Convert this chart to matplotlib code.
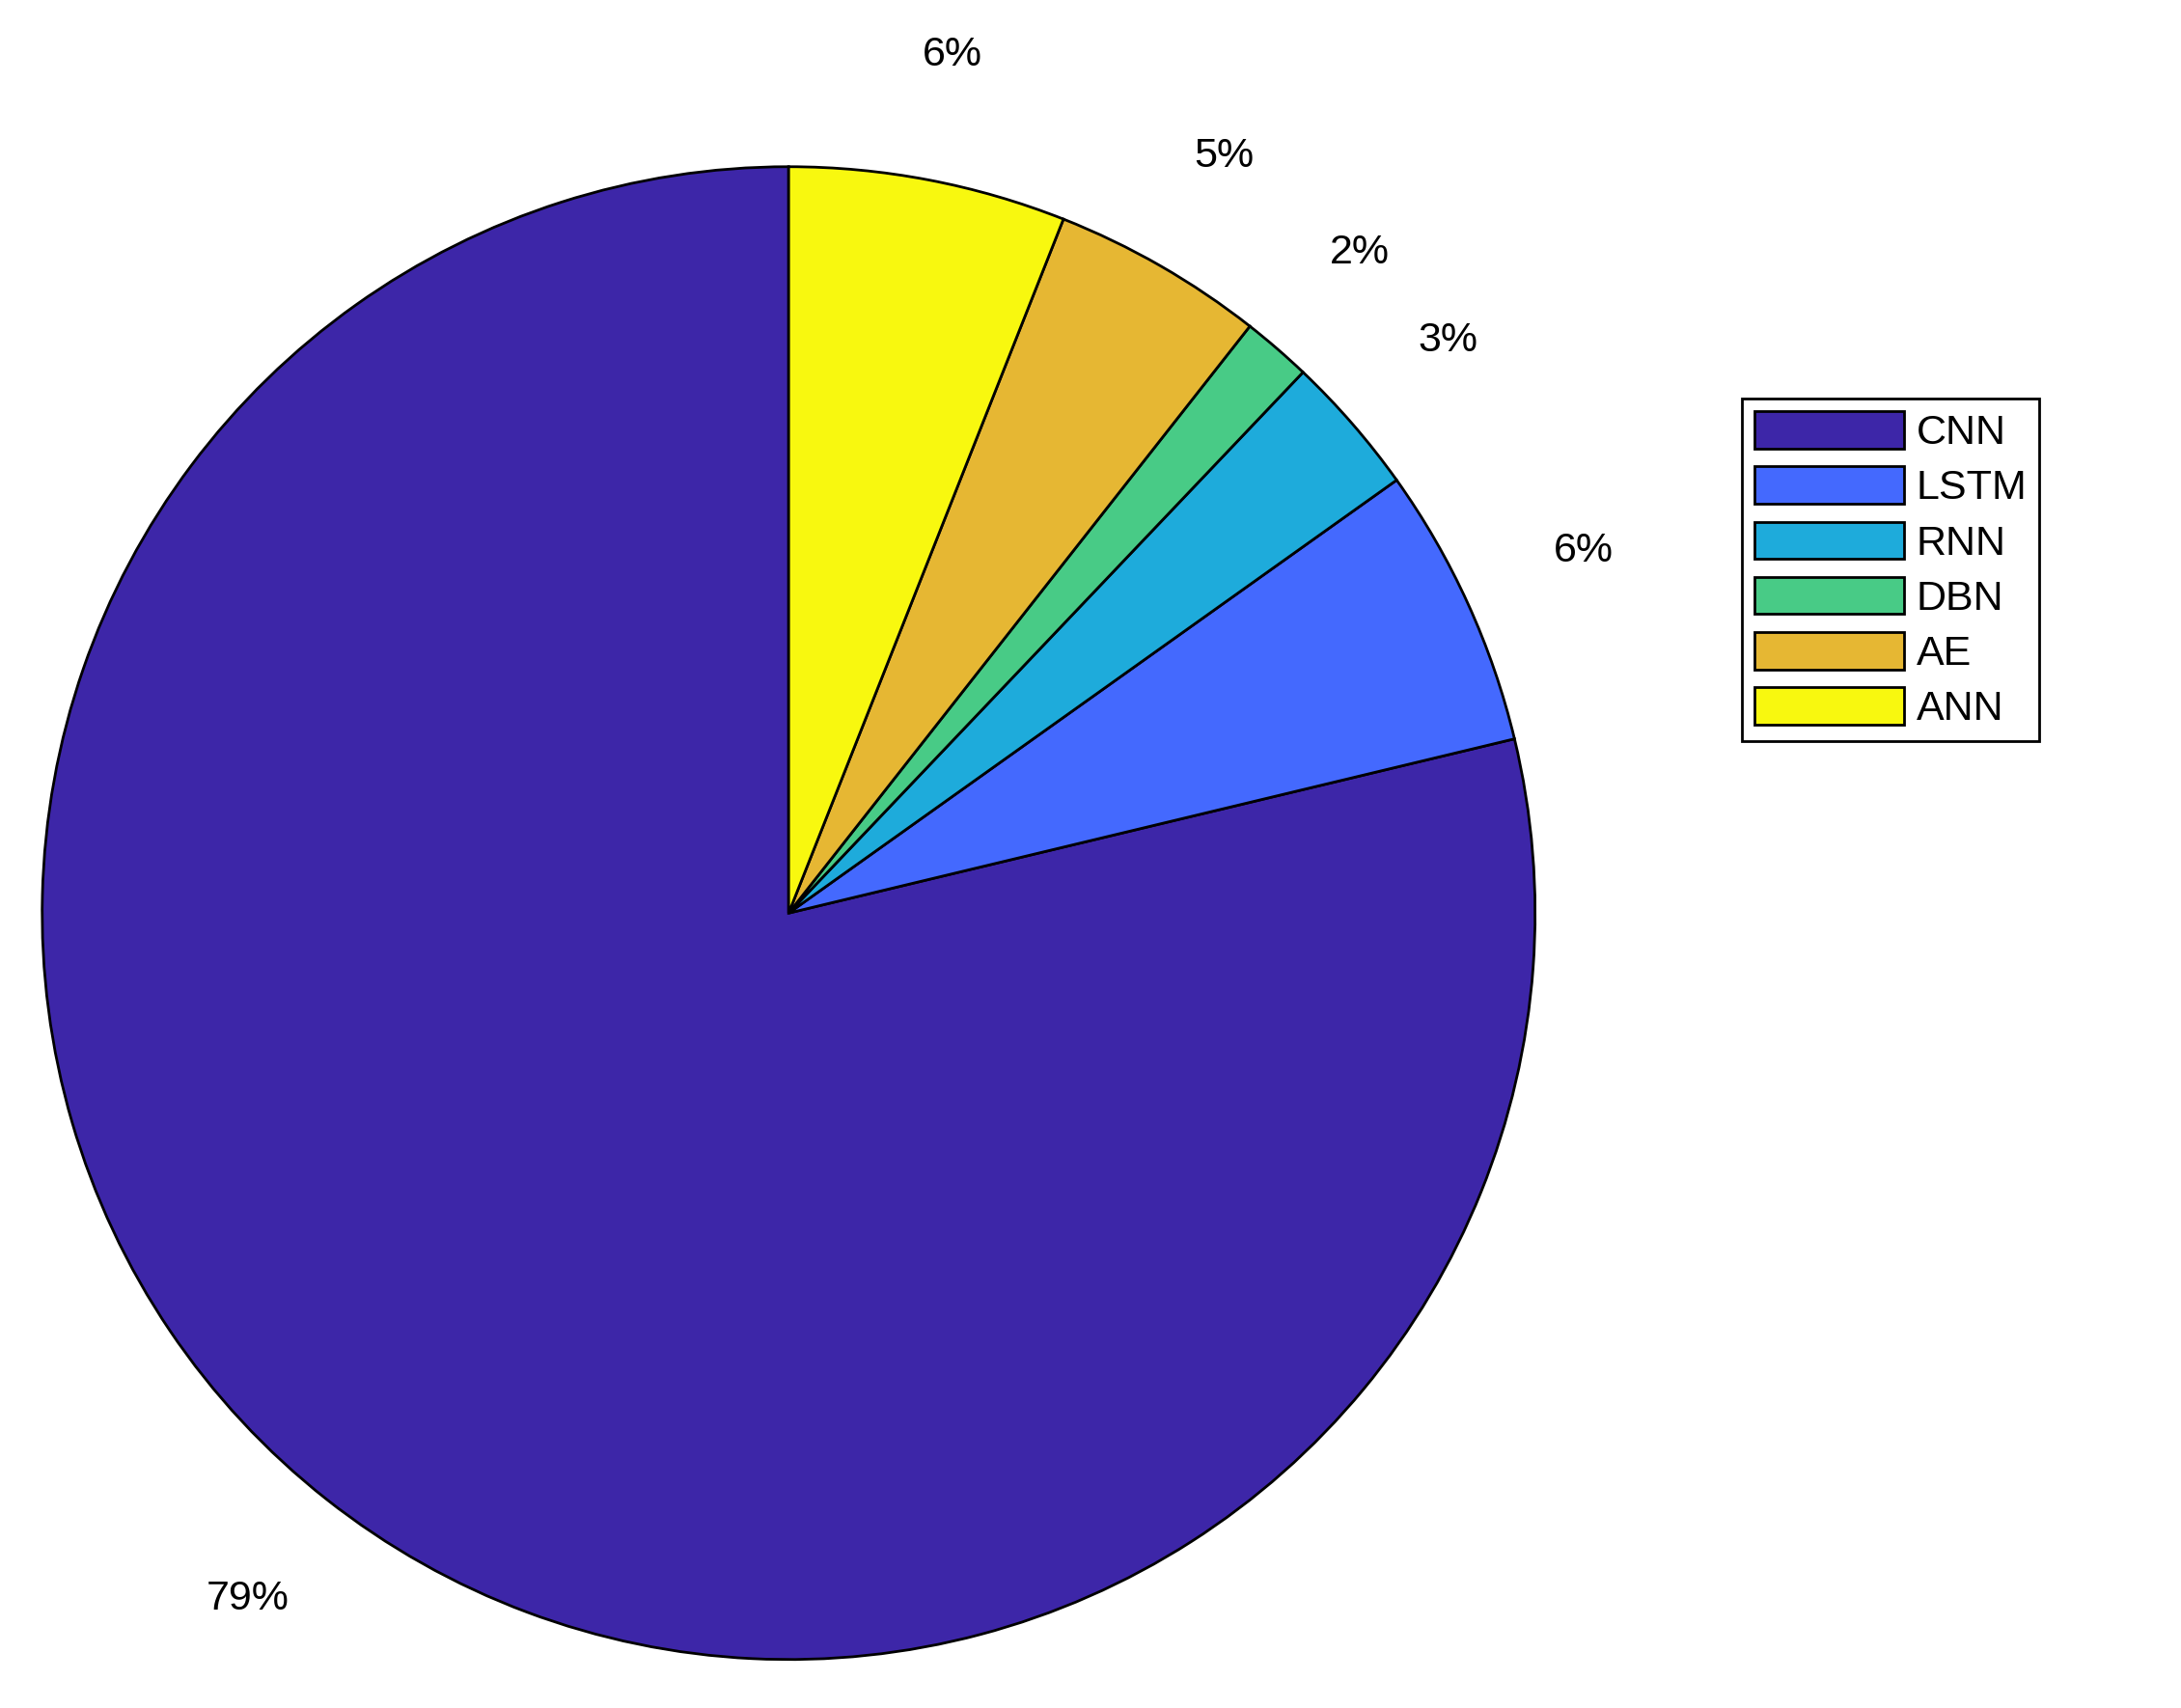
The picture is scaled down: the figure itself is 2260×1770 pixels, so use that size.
import matplotlib.pyplot as plt

categories = ['CNN', 'LSTM', 'RNN', 'DBN', 'AE', 'ANN']
shares = [78.75, 6.1, 3.05, 1.5, 4.6, 6.0]
colors = ['#3D26A8', '#4469FE', '#1EABDB', '#48CB86', '#E6B733', '#F8F80F']

plt.rcParams['font.family'] = ['Liberation Sans', 'DejaVu Sans']

fig = plt.figure(figsize=(22.6, 17.7), dpi=100)
ax = fig.add_axes([0.0191, 0.0284, 0.685, 0.874])
wedges, texts = ax.pie(shares, colors=colors, startangle=90, counterclock=True,
                       labels=[f'{round(s)}%' for s in shares], labeldistance=1.17,
                       wedgeprops={'edgecolor': 'black', 'linewidth': 2},
                       textprops={'fontsize': 31})
for t in texts:
    t.set_ha('center')
    t.set_va('center')
ax.set_aspect('equal')
ax.set_xlim(-1, 1)
ax.set_ylim(-1, 1)

leg = fig.legend(wedges, categories, loc='upper left', bbox_to_anchor=(0.7985, 0.7665),
                 fontsize=31, fancybox=False, edgecolor='black', framealpha=1,
                 handlelength=3.6, handleheight=1.0, labelspacing=0.33,
                 handletextpad=0.3, borderpad=0.3, borderaxespad=0)
leg.get_frame().set_linewidth(2)

fig.savefig('out.png', dpi=100)
